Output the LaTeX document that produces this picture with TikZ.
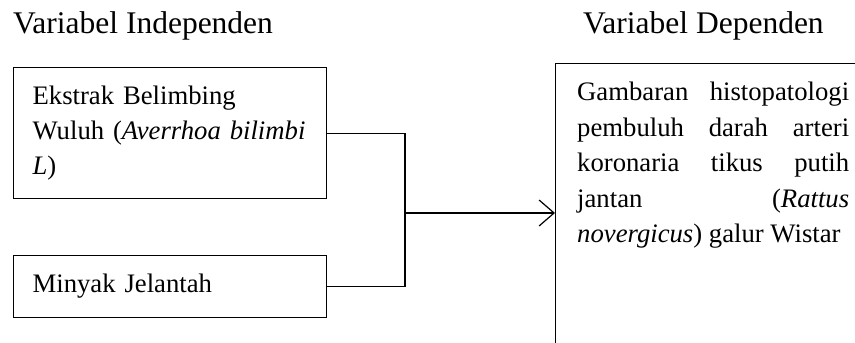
\documentclass[tikz,border=0pt]{standalone}
\usepackage{fontspec}
\setmainfont{Liberation Serif}
\usetikzlibrary{arrows.meta}
\setlength\parindent{0pt}
\hyphenpenalty=10000
\exhyphenpenalty=10000
\begin{document}
\begin{tikzpicture}[x=1pt,y=-1pt,
  title/.style={font=\fontsize{31.5}{36}\selectfont, inner sep=0pt, anchor=base west},
  box/.style={draw, line width=1.2pt, anchor=north west, inner xsep=19pt, inner ysep=0pt,
    text width=275pt, align=left, font=\fontsize{26.7}{35}\selectfont},
  frame/.style={draw, line width=1.2pt, anchor=north west, inner sep=0pt},
  body/.style={inner sep=0pt, anchor=north west, text width=272pt, align=justify,
    font=\fontsize{26.7}{35.5}\selectfont},
  link/.style={line width=1.2pt},
  arr/.style={line width=1.2pt, -{Straight Barb[length=15pt,width=26pt,line width=1.2pt]}}]
\useasboundingbox (0,0) rectangle (855,343);
\node[title] (ti) at (13,33) {Variabel Independen};
\node[title] (td) at (583,33) {Variabel Dependen};
\node[box, minimum width=313pt, minimum height=131pt] (b1) at (13,67)
  {Ekstrak Belimbing\\Wuluh (\textit{Averrhoa bilimbi}\\\textit{L})};
\node[box, minimum width=313pt, minimum height=62pt] (b2) at (13,255) {Minyak Jelantah};
\node[frame, minimum width=330pt, minimum height=320pt] (b3) at (555,63) {};
\node[body] (t3) at (577,82) {Gambaran histopatologi\linebreak pembuluh darah arteri\linebreak koronaria tikus putih\linebreak jantan (\textit{Rattus}\linebreak \textit{novergicus}) galur Wistar};
\coordinate (j) at (405,213);
\draw[link] (b1.east) -| (j);
\draw[link] (b2.east) -| (j);
\draw[arr] (j) -- (b3.west |- j);
\end{tikzpicture}
\end{document}
